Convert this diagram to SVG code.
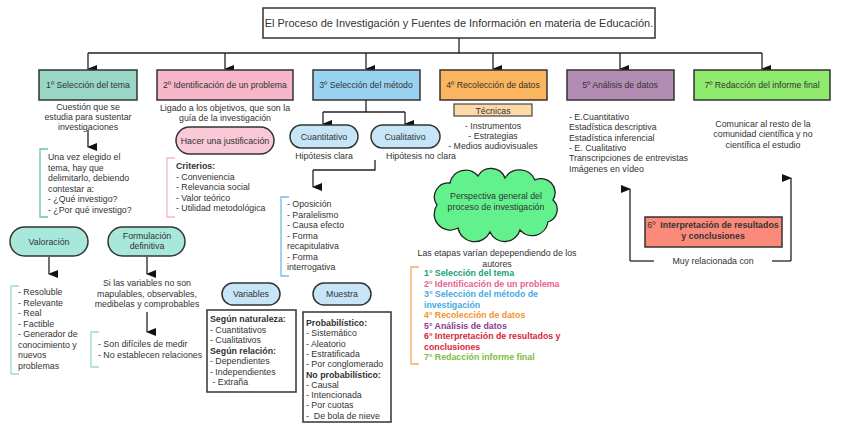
<svg xmlns="http://www.w3.org/2000/svg" width="848" height="430" viewBox="0 0 848 430">
<defs>
<marker id="ah" markerUnits="userSpaceOnUse" markerWidth="8" markerHeight="10" refX="4" refY="9" orient="auto-start-reverse" viewBox="0 0 8 10">
<path d="M0,0 L8,0 L4,10 Z" fill="#111"/>
</marker>
<style>
text{font-family:"Liberation Sans",Arial,sans-serif;fill:#333;font-size:8.8px}
.c{text-anchor:middle}
.b{font-weight:bold}
.box{stroke:#333;stroke-width:1.5}
.ln{fill:none;stroke:#222;stroke-width:1.3}
.ar{fill:none;stroke:#222;stroke-width:1.3;marker-end:url(#ah)}
.br{fill:none;stroke-width:1.3}
.lbl{font-size:8.7px}
</style>
</defs>
<rect width="848" height="430" fill="#fff"/>

<g id="connectors">
<path class="ln" d="M459,38 V53 M88,53 H762"/>
<path class="ar" d="M88,53 V69"/>
<path class="ar" d="M225,53 V69"/>
<path class="ar" d="M366,53 V69"/>
<path class="ar" d="M493,53 V69"/>
<path class="ar" d="M620,53 V69"/>
<path class="ar" d="M762,53 V69"/>
<path class="ar" d="M88,130 V147"/>
<path class="ln" d="M366,100 V112 M323,112 H405"/>
<path class="ar" d="M323,112 V124"/>
<path class="ar" d="M405,112 V124"/>
<path class="ln" d="M375,160 V170 H313"/>
<path class="ar" d="M313,170 V187"/>
<path class="ar" d="M49,257 V274"/>
<path class="ar" d="M147,257 V274"/>
<path class="ar" d="M147,312 V332"/>
<path class="ln" d="M654,261 H630"/>
<path class="ar" d="M630,261 V189"/>
<path class="ln" d="M772,261 H791"/>
<path class="ar" d="M791,261 V178"/>
</g>

<g id="title">
<rect class="box" x="263" y="8" width="392" height="30" fill="#fff"/>
<text class="c" x="459" y="27" style="font-size:10.95px">El Proceso de Investigación y Fuentes de Información en materia de Educación.</text>
</g>

<g id="n1">
<rect class="box" x="39" y="70" width="98" height="30" fill="#98D7C6"/>
<text class="c lbl" x="88" y="88">1º Selección del tema</text>
<text class="c" x="88" y="110">Cuestión que se</text>
<text class="c" x="88" y="120">estudia para sustentar</text>
<text class="c" x="88" y="130">investigaciones</text>
</g>
<g id="n1-detail">
<path class="br" stroke="#6CC0AC" d="M48,149 H40 V217 H48"/>
<text x="48" y="160">Una vez elegido el</text>
<text x="48" y="170.5">tema, hay que</text>
<text x="48" y="181">delimitarlo, debiendo</text>
<text x="48" y="191.5">contestar a:</text>
<text x="48" y="202">- ¿Qué investigo?</text>
<text x="48" y="212.5">- ¿Por qué investigo?</text>
</g>

<g id="valoracion">
<rect class="box" x="10" y="227" width="78" height="29" rx="14.5" fill="#A8E8DA"/>
<text class="c" x="49" y="244.5">Valoración</text>
</g>
<g id="valoracion-detail">
<path class="br" stroke="#9EDBCB" d="M19,286 H11 V374 H19"/>
<text x="18" y="295">- Resoluble</text>
<text x="18" y="305.5">- Relevante</text>
<text x="18" y="316">- Real</text>
<text x="18" y="326.5">- Factible</text>
<text x="18" y="337">- Generador de</text>
<text x="18" y="347.5">conocimiento y</text>
<text x="18" y="358">nuevos</text>
<text x="18" y="368.5">problemas</text>
</g>

<g id="formulacion">
<rect class="box" x="108" y="227" width="77" height="29" rx="14.5" fill="#A8E8DA"/>
<text class="c" x="147" y="238.5">Formulación</text>
<text class="c" x="147" y="249">definitiva</text>
</g>
<g id="formulacion-detail">
<text class="c" x="147" y="286">Si las variables no son</text>
<text class="c" x="147" y="296.5">mapulables, observables,</text>
<text class="c" x="147" y="307">medibelas y comprobables</text>
<path class="br" stroke="#9EDBCB" d="M99,332 H91 V367 H99"/>
<text x="98" y="347">- Son difíciles de medir</text>
<text x="98" y="357.5">- No establecen relaciones</text>
</g>

<g id="n2">
<rect class="box" x="157" y="70" width="136" height="30" fill="#F7B6C9"/>
<text class="c lbl" x="225" y="88">2º Identificación de un problema</text>
<text class="c" x="225" y="111">Ligado a los objetivos, que son la</text>
<text class="c" x="225" y="121">guía de la investigación</text>
</g>
<g id="justificacion">
<rect class="box" x="176" y="127" width="98" height="27" rx="13.5" fill="#F9C9D7"/>
<text class="c" x="225" y="143.5">Hacer una justificación</text>
</g>
<g id="criterios">
<path class="br" stroke="#F5B3C8" d="M175,158 H167 V217 H175"/>
<text class="b" x="176" y="169">Criterios:</text>
<text x="176" y="179.5">- Conveniencia</text>
<text x="176" y="190">- Relevancia social</text>
<text x="176" y="200.5">- Valor teórico</text>
<text x="176" y="211">- Utilidad metodológica</text>
</g>

<g id="n3">
<rect class="box" x="313" y="70" width="107" height="30" fill="#9AD2F2"/>
<text class="c lbl" x="366" y="88">3º Selección del método</text>
</g>
<g id="cuantitativo">
<rect class="box" x="290" y="125" width="68" height="23" rx="11.5" fill="#C6E6F8"/>
<text class="c" x="324" y="139.5">Cuantitativo</text>
<text class="c" x="324" y="159">Hipótesis clara</text>
</g>
<g id="cualitativo">
<rect class="box" x="371" y="125" width="69" height="23" rx="11.5" fill="#C6E6F8"/>
<text class="c" x="405" y="139.5">Cualitativo</text>
<text class="c" x="421" y="159">Hipótesis no clara</text>
</g>
<g id="hipotesis-tipos">
<path class="br" stroke="#72BBE9" d="M289,197 H281 V276 H289"/>
<text x="287" y="207">- Oposición</text>
<text x="287" y="217.5">- Paralelismo</text>
<text x="287" y="228">- Causa efecto</text>
<text x="287" y="238.5">- Forma</text>
<text x="287" y="249">recapitulativa</text>
<text x="287" y="259.5">- Forma</text>
<text x="287" y="270">interrogativa</text>
</g>
<g id="variables">
<rect class="box" x="222" y="283" width="58" height="22" rx="11" fill="#C6E6F8"/>
<text class="c" x="251" y="297">Variables</text>
</g>
<g id="muestra">
<rect class="box" x="313" y="283" width="58" height="22" rx="11" fill="#C6E6F8"/>
<text class="c" x="342" y="297">Muestra</text>
</g>
<g id="variables-detail">
<rect class="box" x="207" y="310" width="89" height="82" fill="#fff"/>
<text class="b" x="210" y="322">Según naturaleza:</text>
<text x="210" y="332.5">- Cuantitativos</text>
<text x="210" y="343">- Cualitativos</text>
<text class="b" x="210" y="353.5">Según relación:</text>
<text x="210" y="364">- Dependientes</text>
<text x="210" y="374.5">- Independientes</text>
<text x="210" y="385" xml:space="preserve"> - Extraña</text>
</g>
<g id="muestra-detail">
<rect class="box" x="303" y="312" width="88" height="110" fill="#fff"/>
<text class="b" x="306" y="326">Probabilístico:</text>
<text x="306" y="336.3">- Sistemático</text>
<text x="306" y="346.6">- Aleatorio</text>
<text x="306" y="356.9">- Estratificada</text>
<text x="306" y="367.2">- Por conglomerado</text>
<text class="b" x="306" y="377.5">No probabilístico:</text>
<text x="306" y="387.8">- Causal</text>
<text x="306" y="398.1">- Intencionada</text>
<text x="306" y="408.4">- Por cuotas</text>
<text x="306" y="418.7" xml:space="preserve">-  De bola de nieve</text>
</g>

<g id="n4">
<rect class="box" x="440" y="70" width="107" height="30" fill="#FBB55F"/>
<text class="c lbl" x="493" y="88">4º Recolección de datos</text>
<rect x="454" y="104" width="78" height="12" fill="#FDD9A8" stroke="#444" stroke-width="1.2"/>
<text class="c" x="493" y="113.5">Técnicas</text>
<text class="c" x="493" y="129">- Instrumentos</text>
<text class="c" x="493" y="139">- Estrategias</text>
<text class="c" x="493" y="149">- Medios audiovisuales</text>
</g>

<g id="perspectiva">
<path d="M437,205 A14,14 0 0 1 450,183 A16,16 0 0 1 478,176 A15,15 0 0 1 505,178 A17,17 0 0 1 535,180 A14,14 0 0 1 553,200 A13,13 0 0 1 548,222 A16,16 0 0 1 520,230 A16,16 0 0 1 490,232 A17,17 0 0 1 458,228 A16,16 0 0 1 437,205 Z" fill="#62F18C" stroke="#222" stroke-width="1.3"/>
<text class="c" x="496" y="199">Perspectiva general del</text>
<text class="c" x="496" y="210">proceso de investigación</text>
</g>
<g id="etapas">
<text class="c" x="497" y="256">Las etapas varían depependiendo de los</text>
<text class="c" x="497" y="267">autores</text>
<path class="br" stroke="#F9A95B" d="M419,267 H411 V364 H419"/>
<text class="b" x="424" y="276" style="fill:#1A9E7A">1° Selección del tema</text>
<text class="b" x="424" y="286.5" style="fill:#E8628F">2° Identificación de un problema</text>
<text class="b" x="424" y="297" style="fill:#45AAE2">3° Selección del método de</text>
<text class="b" x="424" y="307.5" style="fill:#45AAE2">investigación</text>
<text class="b" x="424" y="318" style="fill:#F5922C">4° Recolección de datos</text>
<text class="b" x="424" y="328.5" style="fill:#8B3D8E">5° Análisis de datos</text>
<text class="b" x="424" y="339" style="fill:#D6263D">6° Interpretación de resultados y</text>
<text class="b" x="424" y="349.5" style="fill:#D6263D">conclusiones</text>
<text class="b" x="424" y="360" style="fill:#7DBD3D">7° Redacción informe final</text>
</g>

<g id="n5">
<rect class="box" x="567" y="70" width="107" height="30" fill="#B28CB3"/>
<text class="c lbl" x="620" y="88">5º Análisis de datos</text>
<text x="569" y="120">- E.Cuantitativo</text>
<text x="569" y="130.3">Estadística descriptiva</text>
<text x="569" y="140.6">Estadística inferencial</text>
<text x="569" y="150.9">- E. Cualitativo</text>
<text x="569" y="161.2">Transcripciones de entrevistas</text>
<text x="569" y="171.5">Imágenes en vídeo</text>
</g>

<g id="n6">
<rect class="box" x="645" y="217" width="137" height="30" fill="#FB8A7A"/>
<text class="c" x="713" y="227.5" xml:space="preserve">6º  <tspan class="b">Interpretación de resultados</tspan></text>
<text class="c b" x="713" y="238.5">y conclusiones</text>
<text class="c" x="713" y="264">Muy relacionada con</text>
</g>

<g id="n7">
<rect class="box" x="694" y="70" width="136" height="30" fill="#8FEA6D"/>
<text class="c lbl" x="762" y="88">7º Redacción del informe final</text>
<text class="c" x="763" y="127">Comunicar al resto de la</text>
<text class="c" x="763" y="137.3">comunidad científica y no</text>
<text class="c" x="763" y="147.6">científica el estudio</text>
</g>
</svg>
